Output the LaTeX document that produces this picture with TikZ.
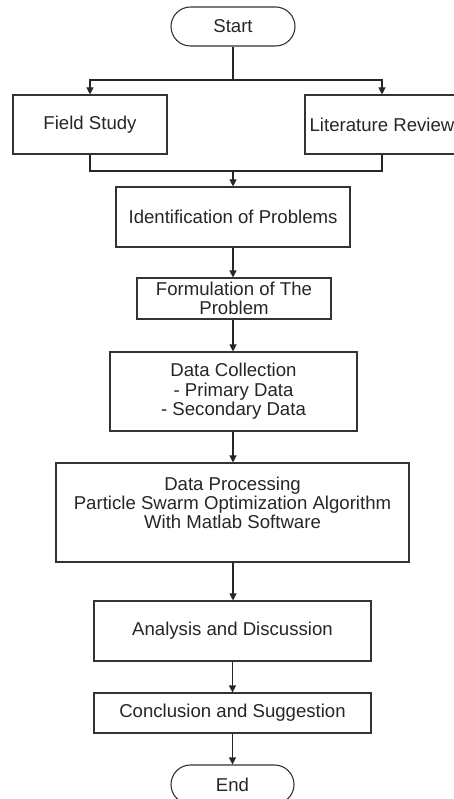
\documentclass[tikz,border=0pt]{standalone}
\usepackage{fontspec}
\setmainfont{Liberation Sans}
\usetikzlibrary{arrows.meta}
\begin{document}
\begin{tikzpicture}[x=1pt,y=-1pt,
  every node/.style={font=\fontsize{18.6}{19.4}\selectfont, text=black!85},
  box/.style={draw=black!80, line width=1.1pt, rectangle, inner sep=0pt, align=center},
  term/.style={draw=black!80, line width=1.1pt, rectangle, rounded corners=19.5pt, inner sep=0pt, minimum width=124pt, minimum height=39pt},
  conn/.style={draw=black!85, line width=1.1pt},
  arr/.style={conn, -{Triangle[length=7pt,width=7pt]}}]
\useasboundingbox (0,0) rectangle (454,799);
\clip (0,0) rectangle (454,799);
\fill[white] (0,0) rectangle (454,799);

\node[term] (start) at (233,26.5) {Start};
\node[box, minimum width=154pt, minimum height=59pt] (fs) at (90,124.5) {Field Study};
\node[box, minimum width=154pt, minimum height=59pt] (lr) at (382,124.5) {Literature Review};
\node[box, minimum width=234pt, minimum height=60pt] (id) at (233,217) {Identification of Problems};
\node[box, minimum width=194pt, minimum height=41pt] (fo) at (234,298.5) {Formulation of The\\Problem};
\node[box, minimum width=247pt, minimum height=79pt] (dc) at (233.5,391.5) {Data Collection\\- Primary Data\\- Secondary Data};
\node[box, minimum width=353pt, minimum height=99pt] (dp) at (232.5,512.5) {Data Processing\\Particle Swarm Optimization Algorithm\\With Matlab Software\\\mbox{}};
\node[box, minimum width=277pt, minimum height=60pt] (an) at (232.5,631) {Analysis and Discussion};
\node[box, minimum width=277pt, minimum height=40pt] (co) at (232.5,713) {Conclusion and Suggestion};
\node[term, minimum width=123pt] (end) at (232.5,784.5) {End};

\coordinate (split) at (233,80);
\coordinate (join) at (233,171);
\draw[conn] (start.south) -- (split);
\draw[arr] (split) -| (fs.north);
\draw[arr] (split) -| (lr.north);
\draw[conn] (fs.south) |- (join) -| (lr.south);
\draw[arr] (join) -- (id.north);
\draw[arr] (id.south) -- (id.south |- fo.north);
\draw[arr] (fo.south -| id.south) -- (id.south |- dc.north);
\draw[arr] (dc.south -| id.south) -- (id.south |- dp.north);
\draw[arr] (dp.south -| id.south) -- (id.south |- an.north);
\draw[arr] (an.south) -- (co.north);
\draw[arr] (co.south) -- (end.north);
\end{tikzpicture}
\end{document}
